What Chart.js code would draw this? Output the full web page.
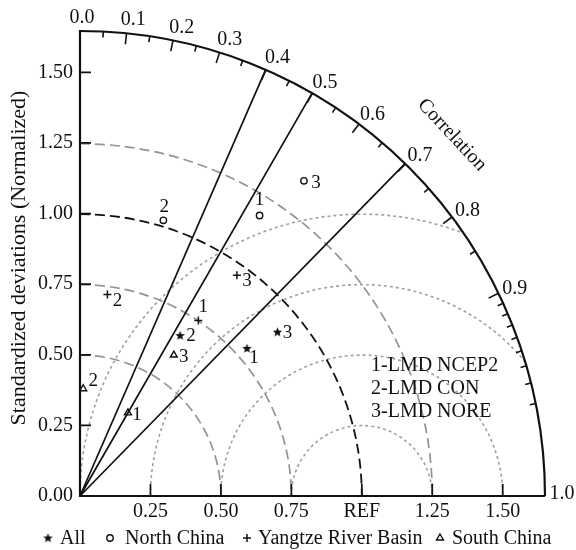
<!DOCTYPE html>
<html>
<head>
<meta charset="utf-8">
<script src="https://cdn.jsdelivr.net/npm/chart.js@4.4.0/dist/chart.umd.min.js"></script>
<style>
  html, body { margin: 0; padding: 0; background: #fff; }
  #wrap { width: 576px; height: 550px; }
</style>
</head>
<body>
<div id="wrap"><canvas id="taylor" width="576" height="550"></canvas></div>
<script>
// ── DATA ───────────────────────────────────────────────────────
const groups = ['All', 'North China', 'Yangtze River Basin', 'South China'];
const runs = ['1', '2', '3'];
const runNames = ['1-LMD NCEP2', '2-LMD CON', '3-LMD NORE'];

// normalized standard deviation and correlation, per run 1..3
const stdAll = [0.79, 0.67, 0.91];
const corrAll = [0.75, 0.53, 0.77];
const stdNorth = [1.18, 1.02, 1.37];
const corrNorth = [0.54, 0.29, 0.58];
const stdYangtze = [0.75, 0.72, 0.96];
const corrYangtze = [0.56, 0.135, 0.58];
const stdSouth = [0.34, 0.38, 0.60];
const corrSouth = [0.50, 0.03, 0.555];

const maxStd = 1.65;
const refStd = 1.0;
const stdTicks = [0.25, 0.5, 0.75, 1.0, 1.25, 1.5];
const yTickLabels = ['0.00', '0.25', '0.50', '0.75', '1.00', '1.25', '1.50'];
const xTickLabels = ['0.25', '0.50', '0.75', 'REF', '1.25', '1.50'];
const stdArcs = [0.5, 0.75, 1.25];
const rmsArcs = [0.25, 0.5, 0.75, 1.0];
const corrLines = [0.4, 0.5, 0.7];
const corrMajor = [0.1, 0.2, 0.3, 0.4, 0.5, 0.6, 0.7, 0.8, 0.9];
const corrMinor = [0.05, 0.15, 0.25, 0.35, 0.45, 0.55, 0.65, 0.75, 0.85,
                   0.91, 0.92, 0.93, 0.94, 0.95, 0.96, 0.97, 0.98];
const corrLabelValues = [0, 0.1, 0.2, 0.3, 0.4, 0.5, 0.6, 0.7, 0.8, 0.9, 1.0];
const corrLabels = ['0.0', '0.1', '0.2', '0.3', '0.4', '0.5', '0.6', '0.7', '0.8', '0.9', '1.0'];

// label offsets (px) next to each marker
const labelOffsets = [
  [[7, 10], [11, 0], [10, 1]],
  [[0, -15], [1, -13], [12, 2]],
  [[5, -13], [10, 6], [10, 6]],
  [[9, 2], [10, -8], [10, 2]]
];

const SERIF = '"Liberation Serif", "DejaVu Serif", serif';

// ── MARKERS ────────────────────────────────────────────────────
function starImage() {
  const c = document.createElement('canvas');
  c.width = 11; c.height = 11;
  const g = c.getContext('2d');
  g.fillStyle = '#111';
  g.beginPath();
  for (let i = 0; i < 10; i++) {
    const r = i % 2 === 0 ? 5 : 2.2;
    const a = -Math.PI / 2 + i * Math.PI / 5;
    const px = 5.5 + r * Math.cos(a), py = 5.8 + r * Math.sin(a);
    i === 0 ? g.moveTo(px, py) : g.lineTo(px, py);
  }
  g.closePath();
  g.fill();
  return c;
}
const star = starImage();

const markerStyles = [
  { pointStyle: star, radius: 5, borderWidth: 0, backgroundColor: '#111', borderColor: '#111' },
  { pointStyle: 'circle', radius: 3.2, borderWidth: 1.4, backgroundColor: '#fff', borderColor: '#111' },
  { pointStyle: 'cross', radius: 4, borderWidth: 1.5, backgroundColor: '#111', borderColor: '#111' },
  { pointStyle: 'triangle', radius: 4, borderWidth: 1.4, backgroundColor: 'rgba(0,0,0,0)', borderColor: '#111' }
];

const toXY = (s, c) => ({ x: s * c, y: s * Math.sqrt(1 - c * c) });
const stds = [stdAll, stdNorth, stdYangtze, stdSouth];
const corrs = [corrAll, corrNorth, corrYangtze, corrSouth];

const datasets = groups.map((g, i) => ({
  label: g,
  data: stds[i].map((s, j) => toXY(s, corrs[i][j])),
  pointStyle: markerStyles[i].pointStyle,
  pointRadius: markerStyles[i].radius,
  pointBorderWidth: markerStyles[i].borderWidth,
  pointBackgroundColor: markerStyles[i].backgroundColor,
  pointBorderColor: markerStyles[i].borderColor
}));

// ── GRID / AXES ────────────────────────────────────────────────
const taylorGrid = {
  id: 'taylorGrid',
  beforeDatasetsDraw(chart) {
    const { ctx, scales: { x, y } } = chart;
    const ox = x.getPixelForValue(0), oy = y.getPixelForValue(0);
    const px = v => x.getPixelForValue(v) - ox;
    const R = px(maxStd);
    const refX = x.getPixelForValue(refStd);

    ctx.save();
    // RMS arcs, clipped to the quarter disc
    ctx.save();
    ctx.beginPath();
    ctx.moveTo(ox, oy);
    ctx.arc(ox, oy, R, -Math.PI / 2, 0);
    ctx.closePath();
    ctx.clip();
    ctx.strokeStyle = '#a0a0a0';
    ctx.lineWidth = 1.6;
    ctx.setLineDash([3, 3]);
    rmsArcs.forEach(d => {
      ctx.beginPath();
      ctx.arc(refX, oy, px(d), Math.PI, 2 * Math.PI);
      ctx.stroke();
    });
    ctx.restore();

    // std dev arcs
    ctx.setLineDash([10, 5]);
    ctx.strokeStyle = '#949494';
    ctx.lineWidth = 1.7;
    stdArcs.forEach(s => {
      ctx.beginPath();
      ctx.arc(ox, oy, px(s), -Math.PI / 2, 0);
      ctx.stroke();
    });
    ctx.strokeStyle = '#111';
    ctx.lineWidth = 1.8;
    ctx.beginPath();
    ctx.arc(ox, oy, px(refStd), -Math.PI / 2, 0);
    ctx.stroke();
    ctx.setLineDash([]);

    // correlation lines
    ctx.strokeStyle = '#111';
    ctx.lineWidth = 1.7;
    corrLines.forEach(c => {
      ctx.beginPath();
      ctx.moveTo(ox, oy);
      ctx.lineTo(x.getPixelForValue(maxStd * c), y.getPixelForValue(maxStd * Math.sqrt(1 - c * c)));
      ctx.stroke();
    });

    // axes and outer arc
    ctx.lineWidth = 2.2;
    ctx.beginPath();
    ctx.moveTo(ox, y.getPixelForValue(maxStd));
    ctx.lineTo(ox, oy);
    ctx.lineTo(x.getPixelForValue(maxStd), oy);
    ctx.stroke();
    ctx.beginPath();
    ctx.arc(ox, oy, R, -Math.PI / 2, 0);
    ctx.stroke();

    // std ticks on both axes
    ctx.lineWidth = 1.7;
    stdTicks.forEach(s => {
      const tx = x.getPixelForValue(s), ty = y.getPixelForValue(s);
      ctx.beginPath();
      ctx.moveTo(tx, oy); ctx.lineTo(tx, oy - 12);
      ctx.moveTo(ox, ty); ctx.lineTo(ox + 11, ty);
      ctx.stroke();
    });

    // correlation ticks
    const arcTick = (c, len) => {
      const a = Math.acos(c);
      ctx.beginPath();
      ctx.moveTo(ox + R * Math.cos(a), oy - R * Math.sin(a));
      ctx.lineTo(ox + (R - len) * Math.cos(a), oy - (R - len) * Math.sin(a));
      ctx.stroke();
    };
    ctx.lineWidth = 1.6;
    corrMajor.forEach(c => arcTick(c, 11));
    corrMinor.forEach(c => arcTick(c, 6));

    // labels
    ctx.fillStyle = '#111';
    ctx.font = '20px ' + SERIF;
    ctx.textBaseline = 'middle';
    ctx.textAlign = 'right';
    yTickLabels.forEach((t, i) => ctx.fillText(t, ox - 7, y.getPixelForValue(i * 0.25)));
    ctx.textAlign = 'center';
    xTickLabels.forEach((t, i) => ctx.fillText(t, x.getPixelForValue(stdTicks[i]), oy + 16));

    corrLabelValues.forEach((c, i) => {
      const a = Math.acos(c);
      const cx = ox + R * Math.cos(a) + 2 + 15 * Math.sqrt(Math.cos(a));
      const cy = oy - R * Math.sin(a) - 2 - 11.5 * Math.sin(a) * Math.sin(a);
      ctx.fillText(corrLabels[i], cx, cy);
    });

    // axis titles
    ctx.save();
    ctx.translate(19, 258);
    ctx.rotate(-Math.PI / 2);
    ctx.font = '22px ' + SERIF;
    ctx.fillText('Standardized deviations (Normalized)', 0, 0);
    ctx.restore();

    ctx.save();
    ctx.translate(452, 135);
    ctx.rotate(47 * Math.PI / 180);
    ctx.fillText('Correlation', 0, 0);
    ctx.restore();

    // run names
    ctx.textAlign = 'left';
    runNames.forEach((t, i) => ctx.fillText(t, 371, 366 + i * 23));

    ctx.restore();
  },
  afterDatasetsDraw(chart) {
    const { ctx } = chart;
    ctx.save();
    ctx.fillStyle = '#111';
    ctx.font = '19px ' + SERIF;
    ctx.textAlign = 'center';
    ctx.textBaseline = 'middle';
    chart.data.datasets.forEach((ds, i) => {
      chart.getDatasetMeta(i).data.forEach((pt, j) => {
        const [dx, dy] = labelOffsets[i][j];
        ctx.fillText(runs[j], pt.x + dx, pt.y + dy);
      });
    });

    // legend row
    const legendX = [48, 110, 247, 440];
    const textX = [60, 125, 258, 452];
    const ly = 538;
    ctx.textAlign = 'left';
    ctx.font = '20px ' + SERIF;
    groups.forEach((g, i) => {
      const m = markerStyles[i];
      ctx.fillStyle = m.backgroundColor;
      ctx.strokeStyle = m.borderColor;
      ctx.lineWidth = m.borderWidth;
      Chart.helpers.drawPoint(ctx, { pointStyle: m.pointStyle, radius: m.radius, rotation: 0, borderWidth: m.borderWidth }, legendX[i], ly);
      ctx.fillStyle = '#111';
      ctx.fillText(g, textX[i], ly + 1);
    });
    ctx.restore();
  }
};

// ── CHART ──────────────────────────────────────────────────────
new Chart(document.getElementById('taylor'), {
  type: 'scatter',
  data: { datasets },
  options: {
    responsive: false,
    animation: false,
    layout: { padding: { left: 80, top: 30, right: 31, bottom: 54 } },
    scales: {
      x: { type: 'linear', min: 0, max: maxStd, display: false },
      y: { type: 'linear', min: 0, max: maxStd, display: false }
    },
    plugins: { legend: { display: false }, tooltip: { enabled: false } }
  },
  plugins: [taylorGrid]
});
</script>
</body>
</html>
